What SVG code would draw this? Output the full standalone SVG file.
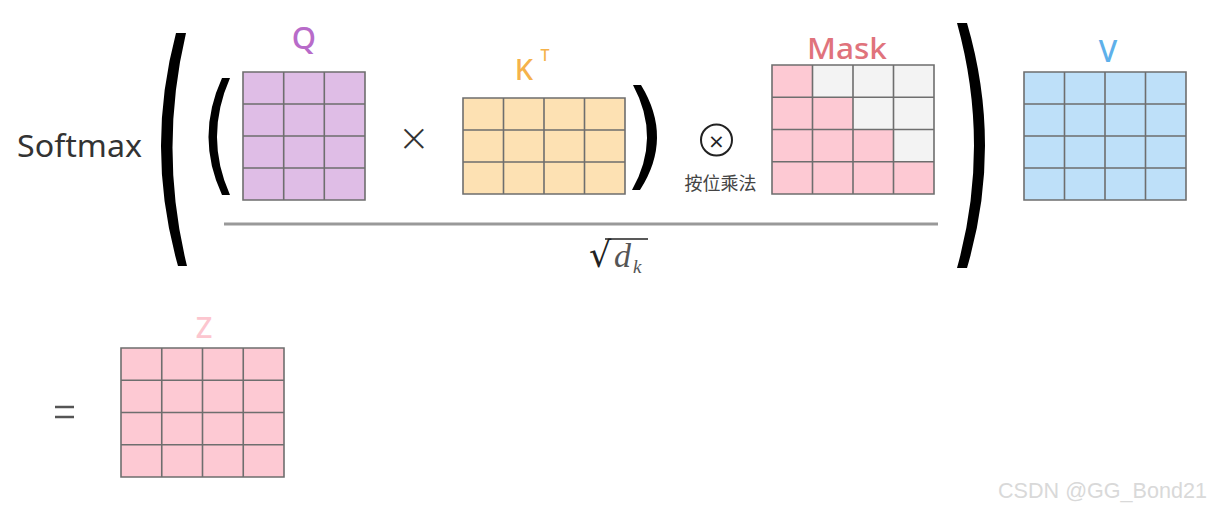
<svg xmlns="http://www.w3.org/2000/svg" width="1213" height="509" viewBox="0 0 1213 509">
<style>
.grid{stroke:#6e6e6e;stroke-width:1.6;fill:none}
.lbl{font-family:"Noto Sans","Open Sans",sans-serif;font-weight:500;text-anchor:middle}
.paren{fill:#000}
.txt{font-family:"Noto Sans","Open Sans",sans-serif;fill:#333}
.math{font-family:"Liberation Serif",serif}
</style>
<rect width="1213" height="509" fill="#fff"/>

<g id="softmax">
<text class="txt" x="17" y="157" font-size="30" textLength="125" lengthAdjust="spacingAndGlyphs">Softmax</text>
</g>

<g id="parens">
<path class="paren" d="M176 33 Q145 150 178 266 L187 266 Q158.5 150 186 33 Z"/>
<path class="paren" d="M222 78 Q195 137 222 195 L230 195 Q204 137 230 78 Z"/>
<path class="paren" d="M641 85 Q673.5 138 640 190 L632 190 Q661.5 138 633 85 Z"/>
<path class="paren" d="M967 23 Q1003 146 967 268 L957 268 Q991 146 957 23 Z"/>
</g>

<g id="Q">
<text class="lbl" x="304" y="49" font-size="31" fill="#b86bc9">Q</text>
<rect x="243" y="72" width="122" height="128" fill="#dfbde6"/>
<path class="grid" d="M243 72H365V200H243Z M283.7 72V200 M324.3 72V200 M243 104H365 M243 136H365 M243 168H365"/>
</g>

<g id="times">
<text x="414" y="155" font-family="'Open Sans',sans-serif" font-weight="300" font-size="46" fill="#333" text-anchor="middle">×</text>
</g>

<g id="KT">
<text class="lbl" x="524" y="80" font-size="29" fill="#f5b24b">K</text>
<text class="lbl" x="545" y="61" font-size="16" fill="#f5b24b">T</text>
<rect x="463" y="98" width="162" height="96" fill="#fde1b3"/>
<path class="grid" d="M463 98H625V194H463Z M503.5 98V194 M544 98V194 M584.5 98V194 M463 130H625 M463 162H625"/>
</g>

<g id="hadamard">
<circle cx="716.5" cy="140" r="15.5" fill="none" stroke="#222" stroke-width="2"/>
<text x="716.5" y="147.5" font-family="DejaVu Sans" font-size="20" fill="#222" text-anchor="middle">×</text>
<text x="720.5" y="190" font-family="'Noto Sans CJK SC',sans-serif" font-size="18" fill="#444" text-anchor="middle">按位乘法</text>
</g>

<g id="Mask">
<text class="lbl" x="847" y="59" font-size="29" fill="#e0737c" textLength="80" lengthAdjust="spacingAndGlyphs">Mask</text>
<rect x="772" y="65" width="162" height="129" fill="#f3f3f3"/>
<path fill="#fdc9d3" d="M772 65H812.5V97.25H853V129.5H893.5V161.75H934V194H772Z"/>
<path class="grid" d="M772 65H934V194H772Z M812.5 65V194 M853 65V194 M893.5 65V194 M772 97.25H934 M772 129.5H934 M772 161.75H934"/>
</g>

<g id="fraction">
<line x1="224" y1="224" x2="938" y2="224" stroke="#999" stroke-width="3"/>
<text x="589" y="267" font-family="'DejaVu Serif',serif" font-size="35" fill="#222">√</text>
<line x1="605" y1="239" x2="648" y2="239" stroke="#222" stroke-width="1.5"/>
<text class="math" x="614" y="267" font-style="italic" font-size="34" fill="#555">d</text>
<text class="math" x="633" y="273" font-style="italic" font-size="19" fill="#555">k</text>
</g>

<g id="V">
<text class="lbl" x="1108" y="62" font-size="30" fill="#5eb0ea">V</text>
<rect x="1024" y="72" width="162" height="128" fill="#bee0f9"/>
<path class="grid" d="M1024 72H1186V200H1024Z M1064.5 72V200 M1105 72V200 M1145.5 72V200 M1024 104H1186 M1024 136H1186 M1024 168H1186"/>
</g>

<g id="equals">
<line x1="55" y1="407" x2="74" y2="407" stroke="#555" stroke-width="2.5"/>
<line x1="55" y1="417" x2="74" y2="417" stroke="#555" stroke-width="2.5"/>
</g>

<g id="Z">
<text class="lbl" x="204" y="338" font-size="29" fill="#fcc6cf">Z</text>
<rect x="121" y="348" width="163" height="129" fill="#fdc9d3"/>
<path class="grid" d="M121 348H284V477H121Z M161.75 348V477 M202.5 348V477 M243.25 348V477 M121 380.25H284 M121 412.5H284 M121 444.75H284"/>
</g>

<g id="watermark">
<text x="998" y="498" font-family="'Liberation Sans',sans-serif" font-size="22" fill="#d9d9d9" textLength="209" lengthAdjust="spacingAndGlyphs">CSDN @GG_Bond21</text>
</g>
</svg>
